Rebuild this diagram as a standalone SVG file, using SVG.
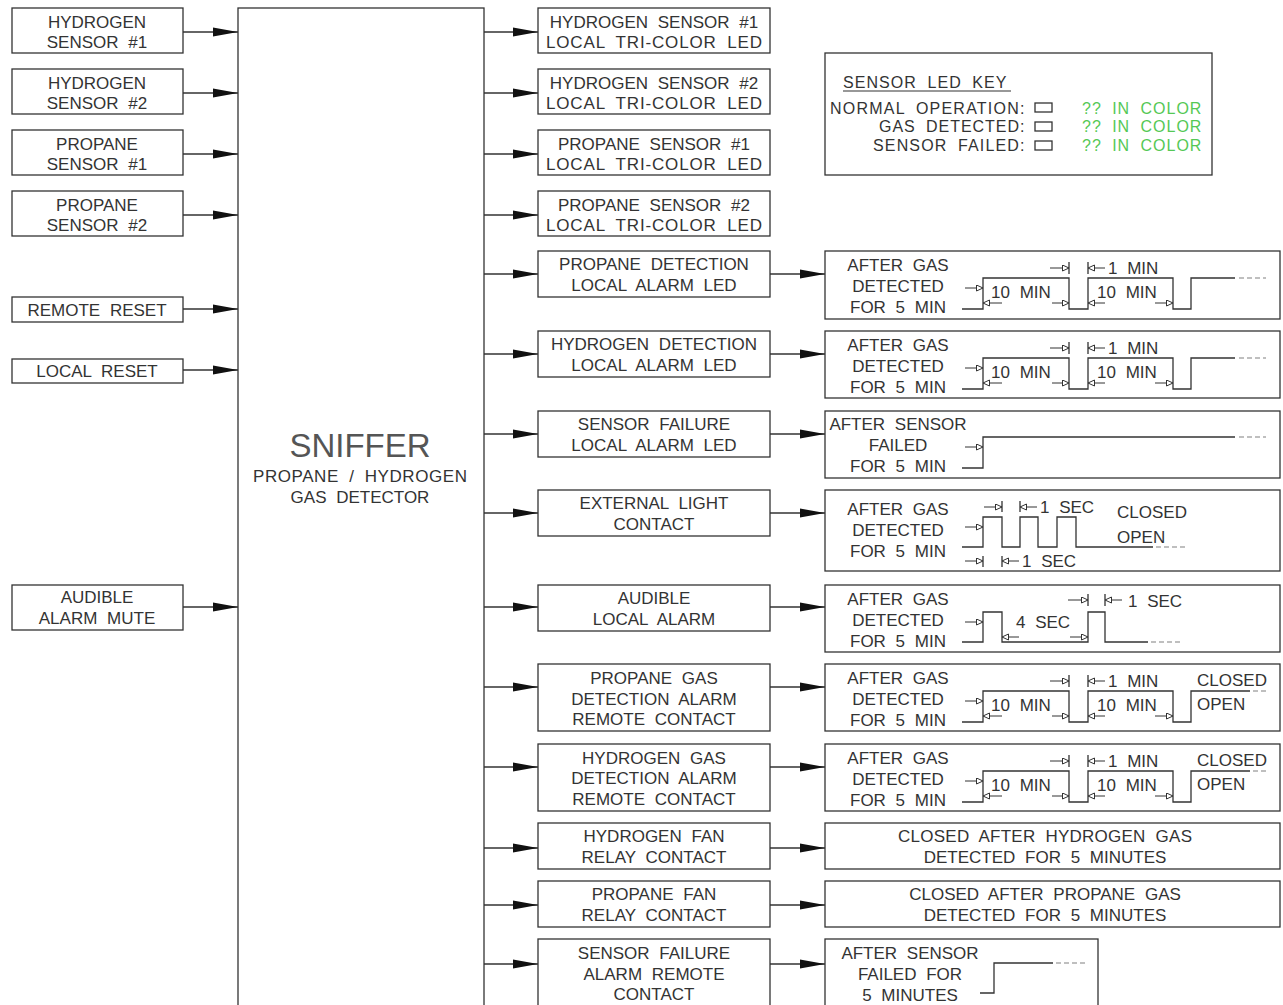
<svg xmlns="http://www.w3.org/2000/svg" width="1283" height="1005" viewBox="0 0 1283 1005">
<defs>
<style>
.box{fill:#fff;stroke:#333;stroke-width:1.3}
.t{font-family:"Liberation Sans",Arial,sans-serif;font-size:17px;fill:#333;text-anchor:middle;word-spacing:5px}
.tl{text-anchor:start}
.tr{text-anchor:end}
.k{font-size:16px;letter-spacing:0.6px}
.g{fill:#55c855}
.w{fill:none;stroke:#333;stroke-width:1.3}
.dash{fill:none;stroke:#aaa;stroke-width:1.3;stroke-dasharray:5 3}
.conn{stroke:#333;stroke-width:1.3;marker-end:url(#ah)}
.dim{stroke:#333;stroke-width:1;marker-end:url(#oa)}
</style>
<marker id="ah" markerUnits="userSpaceOnUse" markerWidth="26" markerHeight="10" refX="25" refY="5" orient="auto"><path d="M0,0.5 L25,5 L0,9.5 z" fill="#111"/></marker>
<marker id="oa" markerUnits="userSpaceOnUse" markerWidth="8" markerHeight="8" refX="7" refY="3.5" orient="auto"><path d="M0.5,0.5 L7,3.5 L0.5,6.5 z" fill="#fff" stroke="#333" stroke-width="1"/></marker>
</defs>
<rect width="1283" height="1005" fill="#fff"/>

<g id="connectors">
<line class="conn" x1="183" y1="32" x2="238" y2="32"/>
<line class="conn" x1="183" y1="93" x2="238" y2="93"/>
<line class="conn" x1="183" y1="154" x2="238" y2="154"/>
<line class="conn" x1="183" y1="215" x2="238" y2="215"/>
<line class="conn" x1="183" y1="309" x2="238" y2="309"/>
<line class="conn" x1="183" y1="370" x2="238" y2="370"/>
<line class="conn" x1="183" y1="607" x2="238" y2="607"/>
<line class="conn" x1="484" y1="32" x2="538" y2="32"/>
<line class="conn" x1="484" y1="93" x2="538" y2="93"/>
<line class="conn" x1="484" y1="154" x2="538" y2="154"/>
<line class="conn" x1="484" y1="215" x2="538" y2="215"/>
<line class="conn" x1="484" y1="274" x2="538" y2="274"/>
<line class="conn" x1="484" y1="354" x2="538" y2="354"/>
<line class="conn" x1="484" y1="434" x2="538" y2="434"/>
<line class="conn" x1="484" y1="513" x2="538" y2="513"/>
<line class="conn" x1="484" y1="607" x2="538" y2="607"/>
<line class="conn" x1="484" y1="687" x2="538" y2="687"/>
<line class="conn" x1="484" y1="767" x2="538" y2="767"/>
<line class="conn" x1="484" y1="848" x2="538" y2="848"/>
<line class="conn" x1="484" y1="905" x2="538" y2="905"/>
<line class="conn" x1="484" y1="964" x2="538" y2="964"/>
<line class="conn" x1="770" y1="274" x2="825" y2="274"/>
<line class="conn" x1="770" y1="354" x2="825" y2="354"/>
<line class="conn" x1="770" y1="434" x2="825" y2="434"/>
<line class="conn" x1="770" y1="513" x2="825" y2="513"/>
<line class="conn" x1="770" y1="607" x2="825" y2="607"/>
<line class="conn" x1="770" y1="687" x2="825" y2="687"/>
<line class="conn" x1="770" y1="767" x2="825" y2="767"/>
<line class="conn" x1="770" y1="848" x2="825" y2="848"/>
<line class="conn" x1="770" y1="905" x2="825" y2="905"/>
<line class="conn" x1="770" y1="964" x2="825" y2="964"/>
</g>

<!-- Inputs -->
<g id="in-h1"><rect class="box" x="12" y="8" width="171" height="45"/><text class="t" x="97" y="28">HYDROGEN</text><text class="t" x="97" y="48">SENSOR #1</text></g>
<g id="in-h2"><rect class="box" x="12" y="69" width="171" height="45"/><text class="t" x="97" y="89">HYDROGEN</text><text class="t" x="97" y="109">SENSOR #2</text></g>
<g id="in-p1"><rect class="box" x="12" y="130" width="171" height="45"/><text class="t" x="97" y="150">PROPANE</text><text class="t" x="97" y="170">SENSOR #1</text></g>
<g id="in-p2"><rect class="box" x="12" y="191" width="171" height="45"/><text class="t" x="97" y="211">PROPANE</text><text class="t" x="97" y="231">SENSOR #2</text></g>
<g id="in-remote-reset"><rect class="box" x="12" y="297" width="171" height="25"/><text class="t" x="97" y="316">REMOTE RESET</text></g>
<g id="in-local-reset"><rect class="box" x="12" y="359" width="171" height="24"/><text class="t" x="97" y="377">LOCAL RESET</text></g>
<g id="in-mute"><rect class="box" x="12" y="585" width="171" height="45"/><text class="t" x="97" y="603">AUDIBLE</text><text class="t" x="97" y="624">ALARM MUTE</text></g>

<!-- Main -->
<g id="sniffer"><rect class="box" x="238" y="8" width="246" height="1010"/>
<text class="t" x="360" y="457" style="font-size:33px;fill:#555">SNIFFER</text>
<text class="t" x="360" y="482" textLength="214" lengthAdjust="spacing">PROPANE / HYDROGEN</text>
<text class="t" x="360" y="503">GAS DETECTOR</text></g>

<!-- Outputs -->
<g id="out-h1led"><rect class="box" x="538" y="8" width="232" height="45"/><text class="t" x="654" y="28">HYDROGEN SENSOR #1</text><text class="t" x="654" y="48" textLength="216" lengthAdjust="spacing">LOCAL TRI-COLOR LED</text></g>
<g id="out-h2led"><rect class="box" x="538" y="69" width="232" height="45"/><text class="t" x="654" y="89">HYDROGEN SENSOR #2</text><text class="t" x="654" y="109" textLength="216" lengthAdjust="spacing">LOCAL TRI-COLOR LED</text></g>
<g id="out-p1led"><rect class="box" x="538" y="130" width="232" height="45"/><text class="t" x="654" y="150">PROPANE SENSOR #1</text><text class="t" x="654" y="170" textLength="216" lengthAdjust="spacing">LOCAL TRI-COLOR LED</text></g>
<g id="out-p2led"><rect class="box" x="538" y="191" width="232" height="45"/><text class="t" x="654" y="211">PROPANE SENSOR #2</text><text class="t" x="654" y="231" textLength="216" lengthAdjust="spacing">LOCAL TRI-COLOR LED</text></g>
<g id="out-pdet"><rect class="box" x="538" y="251" width="232" height="46"/><text class="t" x="654" y="270">PROPANE DETECTION</text><text class="t" x="654" y="291">LOCAL ALARM LED</text></g>
<g id="out-hdet"><rect class="box" x="538" y="331" width="232" height="46"/><text class="t" x="654" y="350">HYDROGEN DETECTION</text><text class="t" x="654" y="371">LOCAL ALARM LED</text></g>
<g id="out-sfail"><rect class="box" x="538" y="411" width="232" height="46"/><text class="t" x="654" y="430">SENSOR FAILURE</text><text class="t" x="654" y="451">LOCAL ALARM LED</text></g>
<g id="out-ext"><rect class="box" x="538" y="490" width="232" height="46"/><text class="t" x="654" y="509">EXTERNAL LIGHT</text><text class="t" x="654" y="530">CONTACT</text></g>
<g id="out-aud"><rect class="box" x="538" y="585" width="232" height="46"/><text class="t" x="654" y="604">AUDIBLE</text><text class="t" x="654" y="625">LOCAL ALARM</text></g>
<g id="out-prem"><rect class="box" x="538" y="664" width="232" height="67"/><text class="t" x="654" y="684">PROPANE GAS</text><text class="t" x="654" y="705">DETECTION ALARM</text><text class="t" x="654" y="725">REMOTE CONTACT</text></g>
<g id="out-hrem"><rect class="box" x="538" y="744" width="232" height="67"/><text class="t" x="654" y="764">HYDROGEN GAS</text><text class="t" x="654" y="784">DETECTION ALARM</text><text class="t" x="654" y="805">REMOTE CONTACT</text></g>
<g id="out-hfan"><rect class="box" x="538" y="823" width="232" height="46"/><text class="t" x="654" y="842">HYDROGEN FAN</text><text class="t" x="654" y="863">RELAY CONTACT</text></g>
<g id="out-pfan"><rect class="box" x="538" y="881" width="232" height="46"/><text class="t" x="654" y="900">PROPANE FAN</text><text class="t" x="654" y="921">RELAY CONTACT</text></g>
<g id="out-sfrem"><rect class="box" x="538" y="939" width="232" height="80"/><text class="t" x="654" y="959">SENSOR FAILURE</text><text class="t" x="654" y="980">ALARM REMOTE</text><text class="t" x="654" y="1000">CONTACT</text></g>

<!-- Key -->
<g id="led-key"><rect class="box" x="825" y="53" width="387" height="122"/>
<text class="t tl k" x="843" y="88" textLength="164" lengthAdjust="spacing">SENSOR LED KEY</text>
<line x1="843" y1="91" x2="1011" y2="91" stroke="#333" stroke-width="1.2"/>
<text class="t tl k" x="830" y="114" textLength="195" lengthAdjust="spacing">NORMAL OPERATION:</text>
<text class="t tl k" x="879" y="132" textLength="146" lengthAdjust="spacing">GAS DETECTED:</text>
<text class="t tl k" x="873" y="151" textLength="152" lengthAdjust="spacing">SENSOR FAILED:</text>
<rect class="box" x="1035" y="103" width="17" height="9"/>
<rect class="box" x="1035" y="122" width="17" height="9"/>
<rect class="box" x="1035" y="141" width="17" height="9"/>
<text class="t tl k g" x="1082" y="114" textLength="120" lengthAdjust="spacing">?? IN COLOR</text>
<text class="t tl k g" x="1082" y="132" textLength="120" lengthAdjust="spacing">?? IN COLOR</text>
<text class="t tl k g" x="1082" y="151" textLength="120" lengthAdjust="spacing">?? IN COLOR</text>
</g>

<!-- Waveform 1: propane detection LED -->
<g id="wave-pdet">
<rect class="box" x="825" y="251" width="455" height="68"/>
<text class="t" x="898" y="271">AFTER GAS</text><text class="t" x="898" y="292">DETECTED</text><text class="t" x="898" y="313">FOR 5 MIN</text>
<path class="w" d="M962,309 H983 V278 H1069 V309 H1088 V278 H1173 V309 H1191 V278 H1235"/>
<line class="dash" x1="1239" y1="278" x2="1266" y2="278"/>
<line class="dim" x1="965" y1="288" x2="983" y2="288"/>
<line class="dim" x1="1002" y1="303" x2="983" y2="303"/>
<text class="t tl" x="991" y="298">10 MIN</text>
<line class="dim" x1="1052" y1="303" x2="1069" y2="303"/>
<line class="dim" x1="1050" y1="268" x2="1069" y2="268"/>
<path class="w" d="M1069,262 V274 M1088,262 V274"/>
<line class="dim" x1="1105" y1="268" x2="1088" y2="268"/>
<text class="t tl" x="1108" y="274">1 MIN</text>
<line class="dim" x1="1105" y1="303" x2="1088" y2="303"/>
<text class="t tl" x="1097" y="298">10 MIN</text>
<line class="dim" x1="1155" y1="303" x2="1173" y2="303"/>
</g>

<!-- Waveform 2: hydrogen detection LED -->
<g id="wave-hdet" transform="translate(0,80)">
<rect class="box" x="825" y="251" width="455" height="67"/>
<text class="t" x="898" y="271">AFTER GAS</text><text class="t" x="898" y="292">DETECTED</text><text class="t" x="898" y="313">FOR 5 MIN</text>
<path class="w" d="M962,309 H983 V278 H1069 V309 H1088 V278 H1173 V309 H1191 V278 H1235"/>
<line class="dash" x1="1239" y1="278" x2="1266" y2="278"/>
<line class="dim" x1="965" y1="288" x2="983" y2="288"/>
<line class="dim" x1="1002" y1="303" x2="983" y2="303"/>
<text class="t tl" x="991" y="298">10 MIN</text>
<line class="dim" x1="1052" y1="303" x2="1069" y2="303"/>
<line class="dim" x1="1050" y1="268" x2="1069" y2="268"/>
<path class="w" d="M1069,262 V274 M1088,262 V274"/>
<line class="dim" x1="1105" y1="268" x2="1088" y2="268"/>
<text class="t tl" x="1108" y="274">1 MIN</text>
<line class="dim" x1="1105" y1="303" x2="1088" y2="303"/>
<text class="t tl" x="1097" y="298">10 MIN</text>
<line class="dim" x1="1155" y1="303" x2="1173" y2="303"/>
</g>

<!-- Waveform 3: sensor failure LED -->
<g id="wave-sfail">
<rect class="box" x="825" y="411" width="455" height="67"/>
<text class="t" x="898" y="430">AFTER SENSOR</text><text class="t" x="898" y="451">FAILED</text><text class="t" x="898" y="472">FOR 5 MIN</text>
<path class="w" d="M962,468 H983 V437 H1235"/>
<line class="dash" x1="1239" y1="437" x2="1266" y2="437"/>
<line class="dim" x1="965" y1="447" x2="983" y2="447"/>
</g>

<!-- Waveform 4: external light -->
<g id="wave-ext">
<rect class="box" x="825" y="490" width="455" height="81"/>
<text class="t" x="898" y="515">AFTER GAS</text><text class="t" x="898" y="536">DETECTED</text><text class="t" x="898" y="557">FOR 5 MIN</text>
<path class="w" d="M962,547 H983 V517 H1002 V547 H1020 V517 H1038 V547 H1057 V517 H1076 V547 H1153"/>
<line class="dash" x1="1156" y1="547" x2="1186" y2="547"/>
<line class="dim" x1="965" y1="527" x2="983" y2="527"/>
<line class="dim" x1="984" y1="507" x2="1002" y2="507"/>
<path class="w" d="M1002,501 V512 M1020,501 V512 M983,556 V567 M1002,556 V567"/>
<line class="dim" x1="1037" y1="507" x2="1020" y2="507"/>
<text class="t tl" x="1040" y="513">1 SEC</text>
<line class="dim" x1="965" y1="561" x2="983" y2="561"/>
<line class="dim" x1="1019" y1="561" x2="1002" y2="561"/>
<text class="t tl" x="1022" y="567">1 SEC</text>
<text class="t tl" x="1117" y="518">CLOSED</text>
<text class="t tl" x="1117" y="543">OPEN</text>
</g>

<!-- Waveform 5: audible -->
<g id="wave-aud">
<rect class="box" x="825" y="585" width="455" height="67"/>
<text class="t" x="898" y="605">AFTER GAS</text><text class="t" x="898" y="626">DETECTED</text><text class="t" x="898" y="647">FOR 5 MIN</text>
<path class="w" d="M962,642 H983 V612 H1002 V642 H1088 V612 H1105 V642 H1148"/>
<line class="dash" x1="1151" y1="642" x2="1182" y2="642"/>
<line class="dim" x1="965" y1="622" x2="983" y2="622"/>
<line class="dim" x1="1019" y1="637" x2="1002" y2="637"/>
<text class="t tl" x="1016" y="628">4 SEC</text>
<line class="dim" x1="1070" y1="637" x2="1088" y2="637"/>
<line class="dim" x1="1068" y1="600" x2="1088" y2="600"/>
<path class="w" d="M1088,594 V606 M1105,594 V606"/>
<line class="dim" x1="1122" y1="600" x2="1105" y2="600"/>
<text class="t tl" x="1128" y="607">1 SEC</text>
</g>

<!-- Waveform 6: propane remote contact -->
<g id="wave-prem" transform="translate(0,413)">
<rect class="box" x="825" y="251" width="455" height="67"/>
<text class="t" x="898" y="271">AFTER GAS</text><text class="t" x="898" y="292">DETECTED</text><text class="t" x="898" y="313">FOR 5 MIN</text>
<path class="w" d="M962,309 H983 V278 H1069 V309 H1088 V278 H1173 V309 H1191 V278 H1250"/>
<line class="dash" x1="1253" y1="278" x2="1266" y2="278"/>
<line class="dim" x1="965" y1="288" x2="983" y2="288"/>
<line class="dim" x1="1002" y1="303" x2="983" y2="303"/>
<text class="t tl" x="991" y="298">10 MIN</text>
<line class="dim" x1="1052" y1="303" x2="1069" y2="303"/>
<line class="dim" x1="1050" y1="268" x2="1069" y2="268"/>
<path class="w" d="M1069,262 V274 M1088,262 V274"/>
<line class="dim" x1="1105" y1="268" x2="1088" y2="268"/>
<text class="t tl" x="1108" y="274">1 MIN</text>
<line class="dim" x1="1105" y1="303" x2="1088" y2="303"/>
<text class="t tl" x="1097" y="298">10 MIN</text>
<line class="dim" x1="1155" y1="303" x2="1173" y2="303"/>
<text class="t tl" x="1197" y="273">CLOSED</text>
<text class="t tl" x="1197" y="297">OPEN</text>
</g>

<!-- Waveform 7: hydrogen remote contact -->
<g id="wave-hrem" transform="translate(0,493)">
<rect class="box" x="825" y="251" width="455" height="67"/>
<text class="t" x="898" y="271">AFTER GAS</text><text class="t" x="898" y="292">DETECTED</text><text class="t" x="898" y="313">FOR 5 MIN</text>
<path class="w" d="M962,309 H983 V278 H1069 V309 H1088 V278 H1173 V309 H1191 V278 H1250"/>
<line class="dash" x1="1253" y1="278" x2="1266" y2="278"/>
<line class="dim" x1="965" y1="288" x2="983" y2="288"/>
<line class="dim" x1="1002" y1="303" x2="983" y2="303"/>
<text class="t tl" x="991" y="298">10 MIN</text>
<line class="dim" x1="1052" y1="303" x2="1069" y2="303"/>
<line class="dim" x1="1050" y1="268" x2="1069" y2="268"/>
<path class="w" d="M1069,262 V274 M1088,262 V274"/>
<line class="dim" x1="1105" y1="268" x2="1088" y2="268"/>
<text class="t tl" x="1108" y="274">1 MIN</text>
<line class="dim" x1="1105" y1="303" x2="1088" y2="303"/>
<text class="t tl" x="1097" y="298">10 MIN</text>
<line class="dim" x1="1155" y1="303" x2="1173" y2="303"/>
<text class="t tl" x="1197" y="273">CLOSED</text>
<text class="t tl" x="1197" y="297">OPEN</text>
</g>

<g id="desc-hfan"><rect class="box" x="825" y="823" width="455" height="46"/><text class="t" x="1045" y="842" textLength="294" lengthAdjust="spacing">CLOSED AFTER HYDROGEN GAS</text><text class="t" x="1045" y="863">DETECTED FOR 5 MINUTES</text></g>
<g id="desc-pfan"><rect class="box" x="825" y="881" width="455" height="46"/><text class="t" x="1045" y="900">CLOSED AFTER PROPANE GAS</text><text class="t" x="1045" y="921">DETECTED FOR 5 MINUTES</text></g>

<g id="wave-sfrem">
<rect class="box" x="825" y="939" width="273" height="80"/>
<text class="t" x="910" y="959">AFTER SENSOR</text><text class="t" x="910" y="980">FAILED FOR</text><text class="t" x="910" y="1001">5 MINUTES</text>
<path class="w" d="M980,993 H994 V963 H1053"/>
<line class="dash" x1="1056" y1="963" x2="1088" y2="963"/>
</g>
</svg>
